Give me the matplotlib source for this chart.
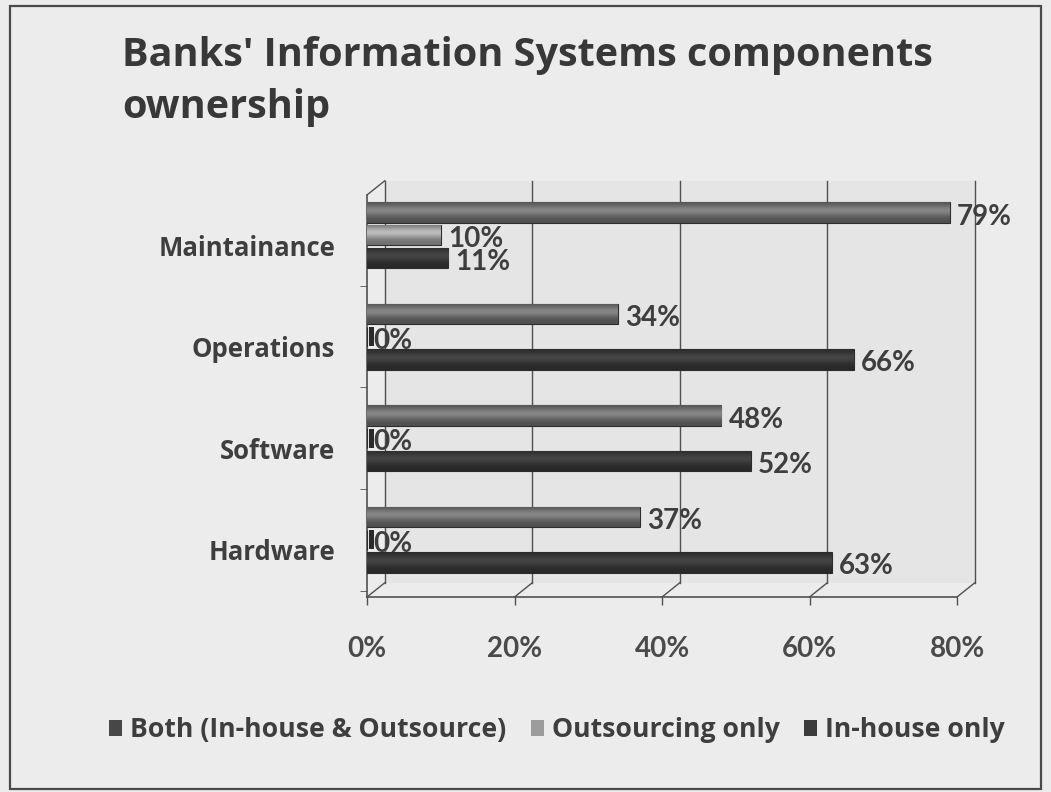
import numpy as np
import matplotlib
matplotlib.use("Agg")
import matplotlib.pyplot as plt
from matplotlib.patches import Rectangle, Patch

# Data
categories = ["Hardware", "Software", "Operations", "Maintainance"]
series_names = ["Both (In-house & Outsource)", "Outsourcing only", "In-house only"]
both = [63, 52, 66, 11]
outsourcing = [0, 0, 0, 10]
inhouse = [37, 48, 34, 79]
x_ticks = [0, 20, 40, 60, 80]

series_values = [both, outsourcing, inhouse]
series_colors = ["#383838", "#9a9a9a", "#6e6e6e"]
legend_colors = ["#474747", "#9c9c9c", "#3c3c3c"]

plt.rcParams['font.family'] = ['Lato', 'DejaVu Sans']
text_col = "#3e3e3e"
line_col = "#505050"
title_font = ['Open Sans', 'DejaVu Sans']

fig = plt.figure(figsize=(10.51, 7.92), dpi=100)
fig.patch.set_facecolor("#ececec")

# Outer frame
fig.add_artist(Rectangle((0.0095, 0.004), 0.981, 0.988, transform=fig.transFigure,
                         fill=False, edgecolor="#4a4a4a", linewidth=1.6))

fig.text(0.116, 1 - 66 / 792, "Banks' Information Systems components",
         fontsize=28.5, fontweight="bold", color="#383838", ha="left", va="baseline",
         family=title_font)
fig.text(0.116, 1 - 118 / 792, "ownership",
         fontsize=28.5, fontweight="bold", color="#383838", ha="left", va="baseline",
         family=title_font)

ax = fig.add_axes([0.3492, 0.2462, 0.5614, 0.5076])
ax.patch.set_visible(False)

y = np.arange(len(categories))
offsets = [-0.223, 0.0, 0.223]
bar_h = 0.2
y_lo, y_hi = -0.564, 3.396
depth_x, depth_y = 2.4, 0.14

# Back wall, floor and grid of the 3-D frame
ax.add_patch(Rectangle((depth_x, y_lo + depth_y), 80, y_hi - y_lo, facecolor="#e5e5e5",
                       edgecolor="none", zorder=0, clip_on=False))
for t in x_ticks:
    ax.plot([t + depth_x, t + depth_x], [y_lo + depth_y, y_hi + depth_y], color=line_col,
            linewidth=1.0, zorder=1, clip_on=False)
    ax.plot([t, t + depth_x], [y_lo, y_lo + depth_y], color=line_col, linewidth=1.0,
            zorder=1, clip_on=False)
ax.plot([0, depth_x], [y_hi, y_hi + depth_y], color=line_col, linewidth=1.0, clip_on=False)

grad = np.linspace(0, 1, 64).reshape(-1, 1)
shade = 0.72 + 0.5 * np.exp(-((grad - 0.6) / 0.28) ** 2)

for vals, col, off, name in zip(series_values, series_colors, offsets, series_names):
    bars = ax.barh(y + off, vals, height=bar_h, color=col, edgecolor="#2c2c2c",
                   linewidth=0.8, label=name, zorder=3)
    rgb = np.array(matplotlib.colors.to_rgb(col))
    for b, v in zip(bars, vals):
        yc = b.get_y() + bar_h / 2
        if v <= 0:
            ax.barh(yc, 0.7, height=bar_h * 0.95, left=0.3, color="#2a2a2a", zorder=4)
            tx = 0.9
        else:
            img = np.clip(shade[..., None] * rgb, 0, 1)
            im = ax.imshow(img, extent=[0, v, b.get_y(), b.get_y() + bar_h],
                           aspect="auto", origin="lower", zorder=3.5,
                           interpolation="bilinear")
            im.set_clip_path(b)
            tx = v + 1.0
        ax.text(tx, yc - 0.04, f"{v}%", va="center", ha="left", fontsize=20,
                fontweight="bold", color=text_col, zorder=5)

ax.set_xlim(0, 80)
ax.set_ylim(y_lo, y_hi)
ax.set_xticks(x_ticks)
ax.set_xticklabels([f"{t}%" for t in x_ticks], fontsize=20, fontweight="bold",
                   color="#4a4a4a")
ax.set_yticks(y - 0.1)
ax.set_yticklabels(categories)
for lbl in ax.get_yticklabels():
    lbl.set_fontfamily(title_font)
    lbl.set_fontsize(18.5)
    lbl.set_fontweight("bold")
    lbl.set_color(text_col)
ax.set_yticks(np.arange(-0.5, 3.5, 1.0), minor=True)
ax.tick_params(axis="y", which="major", length=0, pad=23)
ax.tick_params(axis="y", which="minor", length=5, color=line_col, direction="out")
ax.tick_params(axis="x", length=6, width=1.0, color=line_col, pad=22, direction="out")

for s in ["top", "right"]:
    ax.spines[s].set_visible(False)
for s in ["left", "bottom"]:
    ax.spines[s].set_color(line_col)
    ax.spines[s].set_linewidth(1.2)

handles = [Patch(facecolor=c, edgecolor="none") for c in legend_colors]
fig.legend(handles, series_names, loc="center", bbox_to_anchor=(0.53, 0.078),
           ncol=3, frameon=False, handlelength=0.5, handleheight=0.55, handletextpad=0.3,
           columnspacing=0.9, prop={"size": 19.2, "weight": "bold", "family": title_font},
           labelcolor=text_col)

fig.savefig("out.png", dpi=100, facecolor=fig.get_facecolor())
